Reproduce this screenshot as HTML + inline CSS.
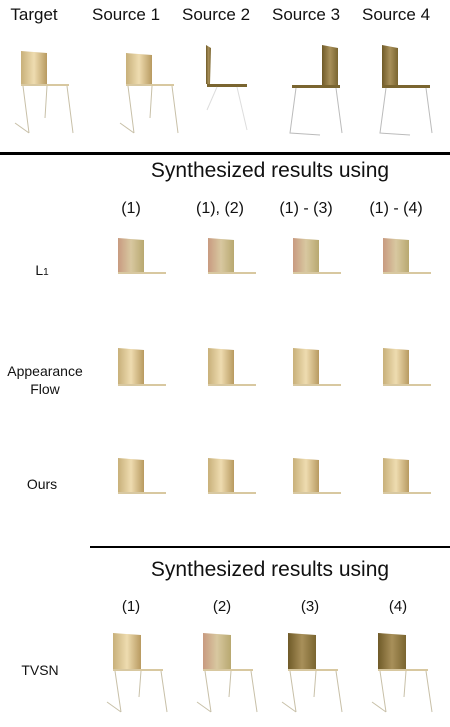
<!DOCTYPE html>
<html><head><meta charset="utf-8"><style>
body{margin:0;width:450px;height:727px;background:#fff;position:relative;overflow:hidden;font-family:"Liberation Sans",sans-serif;color:#111}
.t{position:absolute;white-space:nowrap;transform:translateX(-50%)}
svg{position:absolute;left:0;top:0}
</style></head><body>
<div class="t" style="left:34px;top:5px;font-size:17px">Target</div>
<div class="t" style="left:126px;top:5px;font-size:17px">Source 1</div>
<div class="t" style="left:216px;top:5px;font-size:17px">Source 2</div>
<div class="t" style="left:306px;top:5px;font-size:17px">Source 3</div>
<div class="t" style="left:396px;top:5px;font-size:17px">Source 4</div>
<div style="position:absolute;left:0;top:152px;width:450px;height:3px;background:#000"></div>
<div class="t" style="left:270px;top:159px;font-size:21px">Synthesized results using</div>
<div class="t" style="left:131px;top:200px;font-size:16px">(1)</div>
<div class="t" style="left:220px;top:200px;font-size:16px">(1), (2)</div>
<div class="t" style="left:306px;top:200px;font-size:16px">(1) - (3)</div>
<div class="t" style="left:396px;top:200px;font-size:16px">(1) - (4)</div>
<div class="t" style="left:42px;top:262px;font-size:14px">L<span style="font-size:10px">1</span></div>
<div class="t" style="left:45px;top:362px;font-size:14px;text-align:center;line-height:18px">Appearance<br>Flow</div>
<div class="t" style="left:42px;top:476px;font-size:14px">Ours</div>
<div style="position:absolute;left:90px;top:546px;width:360px;height:2px;background:#000"></div>
<div class="t" style="left:270px;top:558px;font-size:21px">Synthesized results using</div>
<div class="t" style="left:131px;top:598px;font-size:15px">(1)</div>
<div class="t" style="left:222px;top:598px;font-size:15px">(2)</div>
<div class="t" style="left:310px;top:598px;font-size:15px">(3)</div>
<div class="t" style="left:398px;top:598px;font-size:15px">(4)</div>
<div class="t" style="left:40px;top:662px;font-size:14px">TVSN</div>
<svg id="s" width="450" height="727">
<defs>
<linearGradient id="g1" x1="0" x2="1"><stop offset="0" stop-color="#c8b07a"/><stop offset=".5" stop-color="#eedcb0"/><stop offset="1" stop-color="#b89a60"/></linearGradient>
<linearGradient id="g2" x1="0" x2="1"><stop offset="0" stop-color="#6f5a28"/><stop offset=".5" stop-color="#a8905a"/><stop offset="1" stop-color="#7a6530"/></linearGradient>
<linearGradient id="g3" x1="0" x2="1"><stop offset="0" stop-color="#c89a80"/><stop offset=".5" stop-color="#d8c8a0"/><stop offset="1" stop-color="#b8a870"/></linearGradient>
</defs>
</svg>
<script>
const s=document.getElementById('s');
const NS='http://www.w3.org/2000/svg';
function el(tag,attrs,name){const e=document.createElementNS(NS,tag);for(const k in attrs)e.setAttribute(k,attrs[k]);


s.appendChild(e);return e;}
function chair(x,y,w,h,by,fill,legs,name){
  el('polygon',{points:`${x},${y} ${x+w},${y+2} ${x+w},${y+h} ${x},${y+h}`,fill:fill},name+'-back');
  el('rect',{x:x,y:y+h,width:w+22,height:2,fill:'#d8c8a0'},name+'-seat');
  if(legs){
    el('path',{d:`M${x+2},${y+h+2} L${x+8},${by} M${x+w+20},${y+h+2} L${x+w+26},${by} M${x+w},${y+h+2} L${x+w-2},${by-15} M${x-6},${by-10} L${x+8},${by}`,stroke:'#c8c0a8','stroke-width':1,fill:'none'},name+'-legs');
  }
}
function side(x,y,h,by,bx,name){
  el('polygon',{points:`${x},${y} ${x+16},${y+3} ${x+16},${y+h} ${x},${y+h}`,fill:'url(#g2)'},name+'-back');
  el('rect',{x:bx,y:y+h,width:48,height:3,fill:'#7a6530'},name+'-seat');
  el('path',{d:`M${bx+4},${y+h+3} L${bx-2},${by} L${bx+28},${by+2} M${bx+44},${y+h+3} L${bx+50},${by}`,stroke:'#bbb','stroke-width':1,fill:'none'},name+'-legs');
}
chair(21,51,26,33,133,'url(#g1)',true,'target-chair');
chair(126,53,26,31,133,'url(#g1)',true,'source1-chair');
el('polygon',{points:'206,45 211,48 210,84 206,84',fill:'url(#g2)'},'source2-back');
el('rect',{x:207,y:84,width:40,height:3,fill:'#7a6530'},'source2-seat');
el('path',{d:'M217,87 L207,110 M237,87 L247,130',stroke:'#ddd','stroke-width':1,fill:'none'},'source2-legs');
side(322,45,40,133,292,'source3');
side(382,45,40,133,382,'source4');
const cols=[118,208,293,383];
const rows=[[238,34,'url(#g3)','l1'],[348,36,'url(#g1)','af'],[458,34,'url(#g1)','ours']];
rows.forEach(r=>cols.forEach((c,i)=>chair(c,r[0],26,r[1],r[0]+80,r[2],false,r[3]+'-chair-'+(i+1))));
const tv=[['url(#g1)'],['url(#g3)'],['url(#g2)'],['url(#g2)']];
cols.forEach((c,i)=>chair(c-5,633,28,36,712,tv[i][0],true,'tvsn-chair-'+(i+1)));
</script>
</body></html>
